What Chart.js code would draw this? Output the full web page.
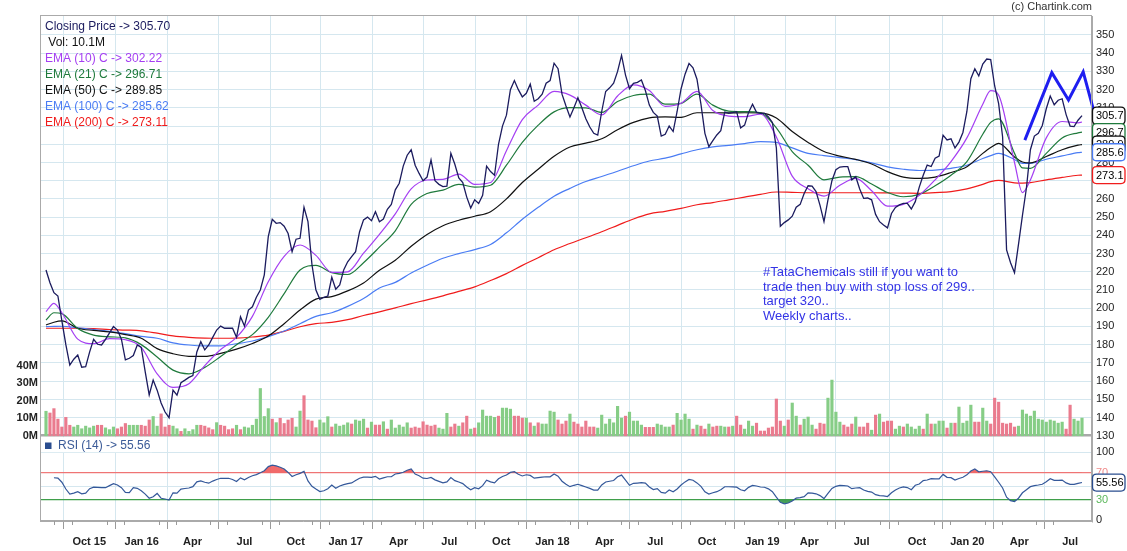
<!DOCTYPE html>
<html><head><meta charset="utf-8">
<script src="https://cdn.jsdelivr.net/npm/chart.js@4.4.1/dist/chart.umd.min.js"></script>
<style>html,body{margin:0;padding:0;background:#fff}canvas{display:block}</style>
</head><body>
<canvas id="c" width="1127" height="551"></canvas>
<script>
// ---- weekly data (index 0 = mid Jul 2015, last = late Jul 2020) ----
const closePrice = [
221,214,208.5,206.7,193,180,168.8,172,174.3,167.6,
167.9,176,182.9,180.2,179.8,182.9,186.5,189.9,188,183,
171.6,172.5,174,179.8,178.5,165,152.4,160.6,155,148,
143,139.9,155.1,152.3,159.1,160.5,162,163,176,181.6,
177.1,179.8,184,188,190.2,189,189,189,184,195.3,
190.2,199,200.8,206,210,218.3,239.3,248.8,246.6,247,
245,241,231,237.9,238.4,255.4,247.5,224,210,204.9,
206,206.7,217,210.4,212.8,221,225.5,228.3,231,242,
248.5,250,248,253,247.5,249,254.3,257,265,268.6,
278,284,287,278.5,274,270,272,281.4,270,268,
266.8,267,285,279,271.5,269,261,255,259.5,257.5,
262,278,275,273,290,300,306,320,325,320,
316,318,323,313.6,315,317.5,323.5,325,334.5,331.5,
317.5,311,305,310,315.5,310,304,299.5,296,295,
308,319,321,323.5,330,338.8,328,320.5,323.5,324,
325.3,319.5,311.5,307.5,305.5,294.5,295.5,300,297,308,
320.5,328.5,334.4,332,325.7,312,296,288.7,292,295.1,
297.5,307.7,307,307.4,307.9,299,300.5,307.5,312,307.5,
307,307,305,302,288,245,247,248.5,250.5,255.5,
257,263,267.2,267,264,256.5,247.5,259.5,270,276,
277.5,277.7,277.7,270.5,272.2,265.5,260.3,260.5,259.5,251.5,
247.5,245.7,244.1,252,255.3,256.7,257.6,257.6,254.5,258.5,
266.5,273,278.6,277.8,282.3,283.5,295,292.4,293,288,
291.2,296.5,308,326,331.5,327.5,334,336.8,336.5,322,
312.3,294,232,225,219.5,235,251,266,287,294.5,
296,300.3,309.5,316.5,311.7,314.2,315,306.3,300,299.7,
303.2,305.7];

const volumeM = [
14,13,15.5,9.5,5,10.5,6,5,6,4,5.5,4.5,5.5,6,6,4.5,3.5,5,4,5,7,6,6,6,6,5.5,9,11,5.5,12.5,5,6,5.5,4,2.5,4,2.5,3.5,6,6,5.5,4.5,3.5,7.5,6,5.5,3.5,4,6,3.5,5,4.5,6,9.5,27,11,15.5,9.5,7.5,10,7,9,10,5,
14.1,22.9,9.0,8.4,4.6,9.0,7.4,10.9,5.0,6.7,
5.5,6.1,7.4,6.7,9.0,8.4,9.5,4.4,7.8,6.1,
6.1,8.0,3.8,9.0,4.4,6.1,5.0,7.4,4.4,5.0,
4.4,8.0,6.1,5.5,6.1,4.4,3.8,12.8,5.0,6.7,
5.5,7.4,11.2,3.8,4.4,7.4,14.7,11.2,11.2,10.5,
11.2,15.8,15.8,15.2,11.2,11.2,10.1,10.1,7.4,5.5,
7.4,6.7,6.7,14.1,13.5,9.0,6.7,8.4,12.4,7.8,
6.7,5.0,8.4,5.0,5.0,4.4,11.8,6.7,9.5,7.4,
16.8,10.1,11.2,13.5,8.4,8.4,6.1,4.8,4.8,4.8,
6.7,6.1,5.0,5.0,6.1,12.8,9.0,12.4,9.5,3.8,6.1,
5.5,3.8,6.7,5.0,5.5,5.5,5.0,5.0,5.5,11.2,
6.1,3.8,8.4,5.5,7.2,2.7,2.7,4.4,5.0,21.0,
8.4,5.5,9.0,18.7,11.2,6.1,9.5,10.7,6.1,3.8,
7.2,6.7,21.5,31.8,13.5,7.8,6.1,5.0,6.7,10.7,
5.0,5.0,7.2,3.2,11.8,12.4,7.8,8.4,8.4,3.8,
5.5,5.0,6.7,5.0,3.8,5.5,3.8,12.4,6.7,6.7,
8.4,8.4,4.4,7.2,7.2,16.4,7.2,8.4,17.5,7.8,
7.8,15.8,8.4,6.7,21.5,19.2,7.2,6.7,7.2,5.0,
5.5,14.7,12.4,11.2,14.1,9.5,9.0,7.8,9.0,8.4,
7.2,7.8,3.8,17.5,9.5,8.4,10.1];

// G = up week (green bar), R = down week (red bar)
const volumeDir =
  "GRRRRRRGGGGGGRRGGGRRRGGGRRRGGRRRGGRGGGGRRRRGRRRRGRGGGGGGGRGRRRRG" +
  "GRRRRGGGRGGGGRGGGRGRRGRGGGGGRRRRRRRGGGRRGRRGRGGGGGRGGGRRRGRGRGGGGRRRGRRRRRRGGGGGGGRGGGGRRRGGGGRGGGGRG" +
  "RRGRRGGRGRRGGGRRRRRRRGRGGRGGGRRRGGGGRRRGRRRGRGRRRGGRGGGGRGRGGGRGRGGGGRRGGRRRRRRRGGGGGGGGGGGGRRGGG";

const rsi14 = [
null,null,62.6,62,56,46,38.5,40,42,39,
40,46.5,48.8,48.5,48,48,51,53.8,52,48,
41,40.6,48,47,43.5,38.5,32.4,34.7,39.5,32.5,
31.3,29.9,40.5,40,45.8,46.8,47.5,49.5,56.6,58,
56,54.6,57.7,60,61.8,61.8,61.8,60,57,62.4,
59.5,63,65.5,67.2,70,73,79,81,80,78,
75.5,70.4,64.5,67,69,72,58,50,46,42.3,
43.5,46.5,51.8,47.2,50.5,52.5,54,55,58.5,61.9,
63.5,63.4,63.2,64.7,60.8,62.5,64.1,64.1,68.1,69,
70.6,73.7,75.5,68,65.6,62,61.5,63,59.5,57.2,
55,56.5,63,58.3,56.3,54,49,45,48,46.3,
51,59,56.5,55,61,64.5,66.6,70.5,71.5,67.8,
65.2,67,66,62,62.8,63.5,64.1,64,68.1,65,
57.5,53,49.5,51.5,53,51,49,47,44.5,44.5,
52,56.3,57.5,58.5,64,66.5,59,51.5,54.4,54.8,
55.3,54.6,49,45.3,46.6,41,40,44.5,42,46,
52,56.5,60.2,59,55,50,42,38.7,40.5,42.1,
45,49.4,49.4,49.3,48.7,45,43.5,48.5,51.3,50.5,
49,48.6,46.3,42,34,26.5,24.2,25.5,28.5,32.6,
33.5,34.8,40.3,40.1,39,36.3,32,39.5,46.8,50,
51.5,51,50.5,46.5,47.5,48,44.5,42.5,41.5,37.7,
36.2,36,35,40.5,44.6,47.5,49.2,48.2,45,51.5,
53.4,58.5,59.3,61.4,61,61,67.5,63.2,62.7,59.3,
61.5,63.4,66.8,72.5,75.4,71.3,72.2,72.9,71.5,64,
56,47.5,34,29,27.6,32.5,40.5,45,49.5,51,
51.9,53,56.6,61.2,58.7,58.7,59.2,55,52.9,52.9,
54.3,55.56];

// EMA readings taken at these week indices
const emaWeeks = [0,2,4,8,12,16,20,24,28,32,36,40,44,48,52,56,60,64,68,72,76,80,84,88,92,96,100,104,108,112,
  116,120,124,128,132,136,140,144,148,152,156,160,164,168,172,176,180,184,188,192,196,200,204,208,212,216,220,224,228,232,
  236,238,240,244,246,248,252,256,260,261];
const ema10 = [198.1,202.7,197.5,183,180.5,183.3,182.7,178.5,164,156.5,
  158.5,168.5,177.3,184,195.5,214.5,228.5,234.7,229,219.7,
  220,230.2,240.6,251.8,265.5,270.4,270.7,273.6,268,269,
  286.5,303.5,311.5,319,317,311.5,306.1,316.5,322.6,319.5,
  310.8,312.5,319,308.5,305.5,305.2,306.5,294,272.5,265.6,
  261.5,267.5,271.3,264.5,256,257,262,270.5,280.5,293.5,
  312,319.5,317,280,263.5,270.4,293.5,302.5,301.8,302.22];
const ema21 = [193.5,197.5,197,188.8,185.2,184.3,183.7,180,173.2,166,
  164,167.5,173.5,180,185.5,195,208,221,223.5,219.5,
  218.5,225,233.5,242.5,257,263,264.8,268,266.5,267.5,
  278.5,291,300.5,307.8,310.1,310,307.5,313.5,316.8,317.5,
  312,312.5,317.5,311.5,308.2,307.9,307.2,299,286,278.5,
  270.5,272,272.2,268.2,263.5,261.2,262.5,267.2,273,280.5,
  295.5,302,304,285,277,276.8,285,293.5,296.3,296.71];
const ema50 = [190.8,192.3,193,189,187.8,187,185.5,183.5,177.8,175,
  173.6,173.5,175.2,177.5,180.6,184.7,191.5,199,205,206.4,
  209.5,213.9,220.8,226.3,234,240.5,245.3,248.3,250.5,253,
  260,269,276.3,283.4,288.5,290.6,293,298,302,304.5,
  305,304.8,307.3,307.3,307.2,307.3,307.2,304.4,297,291,
  286,283.5,281.7,279.2,275,272,271.3,272,274.5,277.7,
  285,288.2,290.5,283,280.3,279.8,283.3,287,289.5,289.85];
const ema100 = [189.9,190,190.1,189.2,188.3,187.3,186,184.5,183.5,181,
  179.8,179.3,179.3,180.5,182,184.4,187.5,191.5,195.5,197.5,
  201,205.3,211.1,214.2,219.3,223.6,227.4,230,232.2,235,
  241.4,248.8,255.4,261.5,265.8,269.6,272.3,275.2,278.2,280.8,
  282.4,284.7,287,288.6,289.4,290.4,291.5,291,288,285,
  283.8,282.7,281.6,279.8,277.6,276.3,275.6,275.8,276.8,278.5,
  282.2,283.8,285,281.6,279.5,279.5,281.8,283.6,285.4,285.62];
const ema200 = [189,189,189,189,188.8,188.3,188,187.6,186.3,184.8,
  184,183.6,183.5,183.6,184.2,185.2,187.3,189.8,191.5,192.2,
  193.7,196,198,200.2,202.5,204.6,206.8,209.2,211.7,215.2,
  219,223.5,227.7,232.1,235.5,238.7,242,245.5,249,251.8,
  253.2,254.8,256.8,258,259.5,261,262.5,263.8,263.6,263.4,
  263.4,263.4,263.4,263.4,263.3,263.2,263.1,263.5,264,265.5,
  268,269.5,270.2,268.8,268.7,268.9,270.5,271.8,273,273.11];

// x-axis labels (week index of each label)
const tickWeeks = [10.9,24.1,36.9,50.0,62.9,75.5,88.8,101.6,114.7,127.6,140.7,153.5,166.5,180.5,192.3,205.5,219.4,232.1,245.2,258.0];
const tickLabels = ['Oct 15','Jan 16','Apr','Jul','Oct','Jan 17','Apr','Jul','Oct','Jan 18','Apr','Jul','Oct','Jan 19','Apr','Jul','Oct','Jan 20','Apr','Jul'];
const priceTicks = [130,140,150,160,170,180,190,200,210,220,230,240,250,260,270,280,290,300,310,320,330,340,350];
const volTicks = [0,10,20,30,40];
const rsiTicks = [0,30,50,70,100];
const rsiLabelTicks = [100,70,30,0];

// hand-drawn annotation (week index, price)
const annWeeks = [246.6,253.4,257.6,261.3,265.5];
const annPrice = [292.3,329.3,314.3,329.8,296.0];
const noteLines = ['#TataChemicals still if you want to','trade then buy with stop loss of 299..','target 320..','Weekly charts..'];

// ---- rendering ----
const FONT = "'Liberation Sans', Arial, Helvetica, sans-serif";
Chart.defaults.font.family = FONT;
const C_CLOSE='#1b1b5e', C_E10='#a53ff2', C_E21='#1f7a3c', C_E50='#111111', C_E100='#4a7cf4', C_E200='#f01c1c', C_RSI='#34589a';
const GRID='#d5e7ef';

const pts = (xs, ys) => xs.map((x,k)=>({x, y: ys[k]}));
const weekPts = ys => ys.map((y,i)=>({x:i,y})).filter(p=>p.y!==null);
const emaSet = (label, arr, color) => ({label, data: pts(emaWeeks, arr), yAxisID:'price', borderColor:color, borderWidth:1.2,
  pointRadius:0, cubicInterpolationMode:'monotone', fill:false});

function roundRect(ctx,x,y,w,h,r){ctx.beginPath();ctx.moveTo(x+r,y);ctx.lineTo(x+w-r,y);ctx.quadraticCurveTo(x+w,y,x+w,y+r);
  ctx.lineTo(x+w,y+h-r);ctx.quadraticCurveTo(x+w,y+h,x+w-r,y+h);ctx.lineTo(x+r,y+h);ctx.quadraticCurveTo(x,y+h,x,y+h-r);
  ctx.lineTo(x,y+r);ctx.quadraticCurveTo(x,y,x+r,y);ctx.closePath();}

const last = a => a[a.length-1];
const rsiLabelColor = v => v===70?'#f08a8a':(v===30?'#5cb85c':'#222');

const decor = {
  id:'decor',
  beforeDraw(chart){const c=chart.ctx;c.save();c.fillStyle='#fff';c.fillRect(0,0,chart.width,chart.height);c.restore();},
  afterDraw(chart){
    const ctx=chart.ctx, a=chart.chartArea, xs=chart.scales.x, ps=chart.scales.price, rs=chart.scales.rsi;
    ctx.save();
    // minor monthly ticks
    ctx.strokeStyle='#9a9a9a'; ctx.lineWidth=1;
    const minors=[];
    for(let k=0;k<tickWeeks.length-1;k++){const d=(tickWeeks[k+1]-tickWeeks[k])/3;minors.push(tickWeeks[k]+d,tickWeeks[k]+2*d);}
    const d0=(tickWeeks[1]-tickWeeks[0])/3; minors.push(tickWeeks[0]-d0,tickWeeks[0]-2*d0);
    minors.forEach(w=>{const x=Math.round(xs.getPixelForValue(w))+0.5; if(x>a.left&&x<a.right){ctx.beginPath();ctx.moveTo(x,a.bottom);ctx.lineTo(x,a.bottom+4);ctx.stroke();}});
    // frame
    ctx.strokeStyle='#aaaaaa'; ctx.lineWidth=1;
    ctx.strokeRect(a.left+0.5,a.top-0.5,a.right-a.left-1,a.bottom-a.top);
    // legend top-left
    ctx.font='12px '+FONT; ctx.textBaseline='middle'; ctx.textAlign='left';
    const leg=[['Closing Price -> '+last(closePrice).toFixed(2),C_CLOSE],[' Vol: '+last(volumeM).toFixed(1)+'M','#111'],
      ['EMA (10) C -> '+last(ema10).toFixed(2),C_E10],['EMA (21) C -> '+last(ema21).toFixed(2),C_E21],
      ['EMA (50) C -> '+last(ema50).toFixed(2),C_E50],['EMA (100) C -> '+last(ema100).toFixed(2),C_E100],
      ['EMA (200) C -> '+last(ema200).toFixed(2),C_E200]];
    leg.forEach((l,k)=>{ctx.fillStyle=l[1];ctx.fillText(l[0],45,27+k*16);});
    // RSI legend
    const rTop = ps.getPixelForValue(130)+1.5;
    ctx.fillStyle='#fff'; ctx.fillRect(a.left+1,rTop,111,15);
    ctx.fillStyle='#2a4d8f'; ctx.fillRect(45,442.5,6.5,6.5);
    ctx.fillStyle='#3b5b98'; ctx.fillText('RSI (14) -> '+last(rsi14).toFixed(2),58,446);
    // RSI axis labels
    ctx.font='11px '+FONT;
    rsiLabelTicks.forEach(v=>{ctx.fillStyle=rsiLabelColor(v); ctx.fillText(String(v), a.right+4, rs.getPixelForValue(v));});
    // note
    ctx.font='13px '+FONT; ctx.fillStyle='#3434e6'; ctx.textBaseline='alphabetic';
    noteLines.forEach((t,k)=>ctx.fillText(t,763,276+k*14.7));
    // title
    ctx.font='11px '+FONT; ctx.fillStyle='#333'; ctx.textAlign='right'; ctx.textBaseline='middle';
    ctx.fillText('(c) Chartink.com',1092,7);
    // value boxes
    ctx.textAlign='left'; ctx.font='11px '+FONT;
    const box=(y,col,txt)=>{roundRect(ctx,a.right+0.5,y-8.5,32.5,17,4);ctx.fillStyle='#fff';ctx.fill();ctx.strokeStyle=col;ctx.lineWidth=1.3;ctx.stroke();
      ctx.fillStyle='#000';ctx.fillText(txt,a.right+4,y+0.5);};
    box(ps.getPixelForValue(last(closePrice)),'#111',last(closePrice).toFixed(1));
    box(ps.getPixelForValue(last(ema21)),C_E21,last(ema21).toFixed(1));
    box(ps.getPixelForValue(last(ema50)),'#111',last(ema50).toFixed(1));
    box(ps.getPixelForValue(last(ema100)),C_E100,last(ema100).toFixed(1));
    box(ps.getPixelForValue(last(ema200)),C_E200,last(ema200).toFixed(1));
    box(rs.getPixelForValue(last(rsi14)),'#2a4d8f',last(rsi14).toFixed(2));
    ctx.restore();
  }
};

const volColors = volumeDir.split('').map(c=>c==='G'?'#86cd86':'#ea7b8e');

new Chart(document.getElementById('c'), {
  type:'line',
  data:{datasets:[
    {label:'note', data: pts(annWeeks, annPrice), yAxisID:'price', borderColor:'#1e1ef0', borderWidth:3, pointRadius:0, tension:0, clip:false, fill:false},
    {label:'close', data: weekPts(closePrice), yAxisID:'price', borderColor:C_CLOSE, borderWidth:1.3, pointRadius:0, tension:0, fill:false},
    emaSet('ema10', ema10, C_E10),
    emaSet('ema21', ema21, C_E21),
    emaSet('ema50', ema50, C_E50),
    emaSet('ema100', ema100, C_E100),
    emaSet('ema200', ema200, C_E200),
    {type:'bar', label:'vol', data: weekPts(volumeM), yAxisID:'vol', backgroundColor: volColors, barThickness:2.5, grouped:false},
    {label:'rsi', data: weekPts(rsi14), yAxisID:'rsi', borderColor:C_RSI, borderWidth:1.2, pointRadius:0, tension:0,
      fill:{target:{value:70}, above:'rgba(240,90,90,0.9)', below:'rgba(0,0,0,0)'}},
    {label:'rsiLow', data: weekPts(rsi14), yAxisID:'rsi', borderColor:'rgba(0,0,0,0)', borderWidth:0, pointRadius:0, tension:0,
      fill:{target:{value:30}, above:'rgba(0,0,0,0)', below:'rgba(50,150,70,0.9)'}}
  ]},
  options:{
    responsive:false, animation:false, devicePixelRatio:1,
    layout:{padding:{top:16,left:0,right:0,bottom:0}},
    plugins:{legend:{display:false}, tooltip:{enabled:false}},
    scales:{
      x:{type:'linear', min:-1.51, max:263.52, offset:false,
        afterBuildTicks:s=>{s.ticks=tickWeeks.map(v=>({value:v}));},
        afterFit:s=>{s.height=30;},
        ticks:{autoSkip:false, maxRotation:0, callback:(v,i)=>tickLabels[i], font:{size:11, weight:'bold'}, color:'#222', padding:6},
        grid:{color:GRID, tickColor:'#9a9a9a', tickLength:8}, border:{color:'#aaaaaa'}},
      vol:{position:'left', min:-48.7, max:239.8,
        afterBuildTicks:s=>{s.ticks=volTicks.map(v=>({value:v}));},
        afterFit:s=>{s.width=40;},
        ticks:{callback:v=>v+'M', font:{size:11, weight:'bold'}, color:'#222', padding:2},
        grid:{display:false, drawTicks:false}, border:{display:true, color:'#aaaaaa'}},
      rsi:{position:'right', weight:0, min:-1, max:741.6,
        afterBuildTicks:s=>{s.ticks=rsiTicks.map(v=>({value:v}));},
        afterFit:s=>{s.width=0;},
        ticks:{display:false},
        grid:{drawTicks:false, color:c=>c.tick.value===70?'#f07b7b':(c.tick.value===30?'#3f9f4a':GRID), lineWidth:c=>(c.tick.value===70||c.tick.value===30)?1.3:1},
        border:{display:false}},
      price:{position:'right', weight:1, min:83.17, max:360.43,
        afterBuildTicks:s=>{s.ticks=priceTicks.map(v=>({value:v}));},
        afterFit:s=>{s.width=35;},
        ticks:{font:{size:11}, color:'#222', padding:4},
        grid:{drawTicks:false, color:c=>c.tick.value===130?'#a9a9a9':GRID, lineWidth:c=>c.tick.value===130?2.5:1},
        border:{display:true, color:'#aaaaaa'}}
    }
  },
  plugins:[decor]
});
</script>
</body></html>
